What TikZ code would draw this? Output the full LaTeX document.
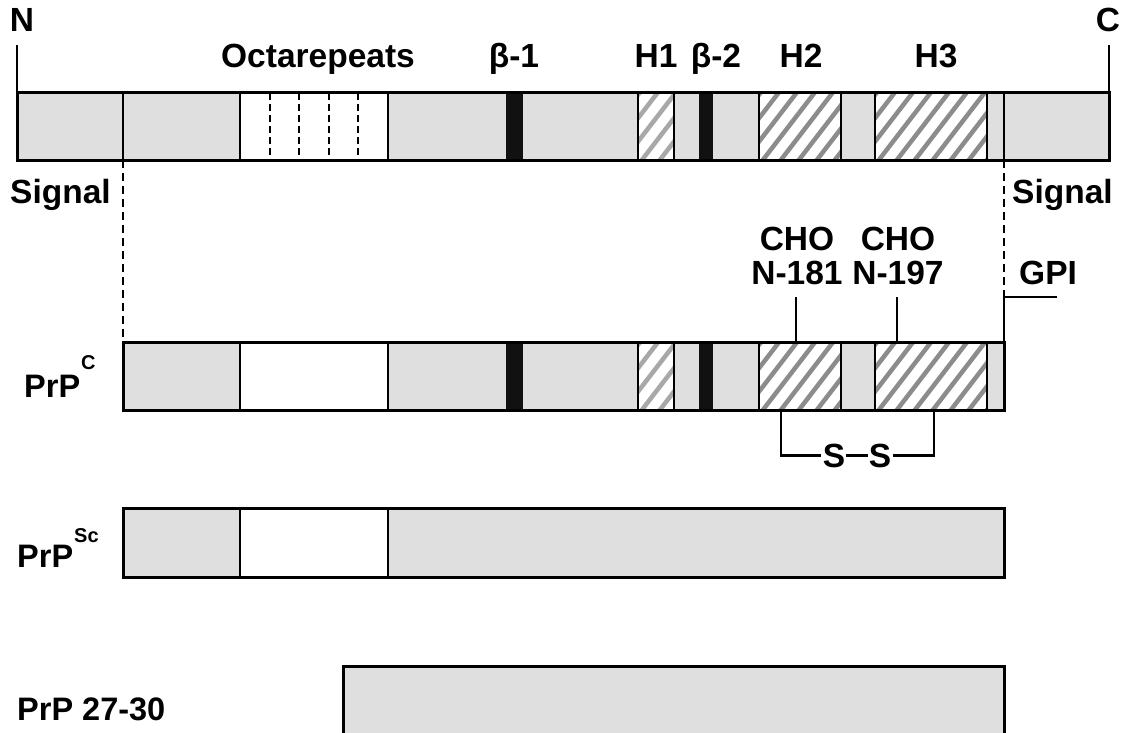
\documentclass[tikz,border=0pt]{standalone}
\usepackage{fontspec}
\setmainfont{Liberation Sans}
\definecolor{segfill}{HTML}{DFDFDF}
\definecolor{hatchdark}{HTML}{8C8C8C}
\definecolor{hatchlight}{HTML}{A8A8A8}
\definecolor{bandblack}{HTML}{111111}
% diagonal hatching of a segment: x1, x2, y-top, y-bottom, stripe colour
\newcommand\hatchseg[5]{%
  \begin{scope}
    \clip (#1,#3) rectangle (#2,#4);
    \fill[white] (#1,#3) rectangle (#2,#4);
    \foreach \s in {-90,-72,...,200}
      \draw[#5, line width=4.5pt] (#1+\s,#4+5) -- ++(60,-78);
  \end{scope}}
\begin{document}
\begin{tikzpicture}[x=1pt,y=-1pt,
  lbl/.style={font=\fontsize{33.5}{38}\selectfont\bfseries, inner sep=0pt},
  namelbl/.style={font=\fontsize{32.5}{38}\selectfont\bfseries, inner sep=0pt},
  outline/.style={draw=black, line width=3pt},
  divider/.style={draw=black, line width=2.6pt},
  repeatline/.style={draw=black, line width=2pt, dash pattern=on 7pt off 4pt},
  guideline/.style={draw=black, line width=2pt, dash pattern=on 8pt off 5pt},
  link/.style={draw=black, line width=2.6pt},
  band/.style={fill=bandblack}]
\useasboundingbox (0,0) rectangle (1126,732);
\clip (0,0) rectangle (1126,732);

% ---------- full-length precursor ----------
\fill[segfill] (17,92) rectangle (1109,160);
\fill[white] (240,92) rectangle (388,160);
\hatchseg{638}{674}{92}{160}{hatchlight}
\hatchseg{759}{841}{92}{160}{hatchdark}
\hatchseg{875}{987}{92}{160}{hatchdark}
\fill[band] (506,92) rectangle (523,160);
\fill[band] (699,92) rectangle (713,160);
\foreach \x in {270,299,329,358}
  \draw[repeatline] (\x,93) -- (\x,159);
\foreach \x in {123,240,388,638,674,759,841,875,987,1004}
  \draw[divider] (\x,92) -- (\x,160);
\draw[outline] (17,92) rectangle (1109,160);

\coordinate (nEnd) at (17,92);
\coordinate (cEnd) at (1109,92);
\coordinate (sigL) at (123,160);
\coordinate (sigR) at (1004,160);

\node[lbl, anchor=base] (N) at (22,31) {N};
\node[lbl, anchor=base] (C) at (1108,31) {C};
\draw[link] (nEnd) -- (nEnd |- 0,45);
\draw[link] (cEnd) -- (cEnd |- 0,45);

\node[lbl, anchor=base] (octa) at (318,67) {Octarepeats};
\node[lbl, anchor=base] (b1) at (514,67) {β-1};
\node[lbl, anchor=base] (h1) at (656,67) {H1};
\node[lbl, anchor=base] (b2) at (716,67) {β-2};
\node[lbl, anchor=base] (h2) at (801,67) {H2};
\node[lbl, anchor=base] (h3) at (936,67) {H3};

\node[lbl, anchor=base west] (sigLlbl) at (10,203) {Signal};
\node[lbl, anchor=base west] (sigRlbl) at (1012,203) {Signal};

% ---------- PrP^C ----------
\fill[segfill] (123,342) rectangle (1004,410);
\fill[white] (240,342) rectangle (388,410);
\hatchseg{638}{674}{342}{410}{hatchlight}
\hatchseg{759}{841}{342}{410}{hatchdark}
\hatchseg{875}{987}{342}{410}{hatchdark}
\fill[band] (506,342) rectangle (523,410);
\fill[band] (699,342) rectangle (713,410);
\foreach \x in {240,388,638,674,759,841,875,987}
  \draw[divider] (\x,342) -- (\x,410);
\draw[outline] (123,342) rectangle (1004,410);

\coordinate (pcTL) at (123,342);
\coordinate (pcTR) at (1004,342);
\coordinate (cho1) at (796,342);
\coordinate (cho2) at (897,342);
\coordinate (ssL) at (781,410);
\coordinate (ssR) at (934,410);

\draw[guideline] (sigL) -- (pcTL);
\draw[guideline] (sigR) -- (sigR |- 0,297);

\node[lbl, anchor=base] (cho1a) at (797,250) {CHO};
\node[lbl, anchor=base] (cho1b) at (797,284) {N-181};
\node[lbl, anchor=base] (cho2a) at (898,250) {CHO};
\node[lbl, anchor=base] (cho2b) at (898,284) {N-197};
\node[lbl, anchor=base west] (gpi) at (1019,284) {GPI};
\coordinate (gpiEnd) at (1057,297);

\draw[link] (cho1) -- (cho1 |- 0,297);
\draw[link] (cho2) -- (cho2 |- 0,297);
\draw[link] (pcTR) -- (pcTR |- gpiEnd) -- (gpiEnd);

\node[lbl, anchor=base] (s1) at (834,467) {S};
\node[lbl, anchor=base] (s2) at (880,467) {S};
\draw[link] (ssL) |- ([xshift=-2pt]s1.west);
\draw[link] ([xshift=1pt]s1.east) -- ([xshift=-1pt]s2.west);
\draw[link] ([xshift=2pt]s2.east) -| (ssR);

\node[namelbl, anchor=base west] (prpc) at (24,397)
  {PrP\hspace{1pt}\raisebox{0.85em}{\fontsize{20}{20}\selectfont C}};

% ---------- PrP^Sc ----------
\fill[segfill] (123,508) rectangle (1004,577);
\fill[white] (240,508) rectangle (388,577);
\foreach \x in {240,388}
  \draw[divider] (\x,508) -- (\x,577);
\draw[outline] (123,508) rectangle (1004,577);
\node[namelbl, anchor=base west] (prpsc) at (17,567)
  {PrP\hspace{1pt}\raisebox{0.75em}{\fontsize{20}{20}\selectfont Sc}};

% ---------- PrP 27-30 ----------
\draw[outline, fill=segfill] (343,666) rectangle (1004,745);
\node[namelbl, anchor=base west] (prp2730) at (17,720) {PrP 27-30};

\end{tikzpicture}
\end{document}
